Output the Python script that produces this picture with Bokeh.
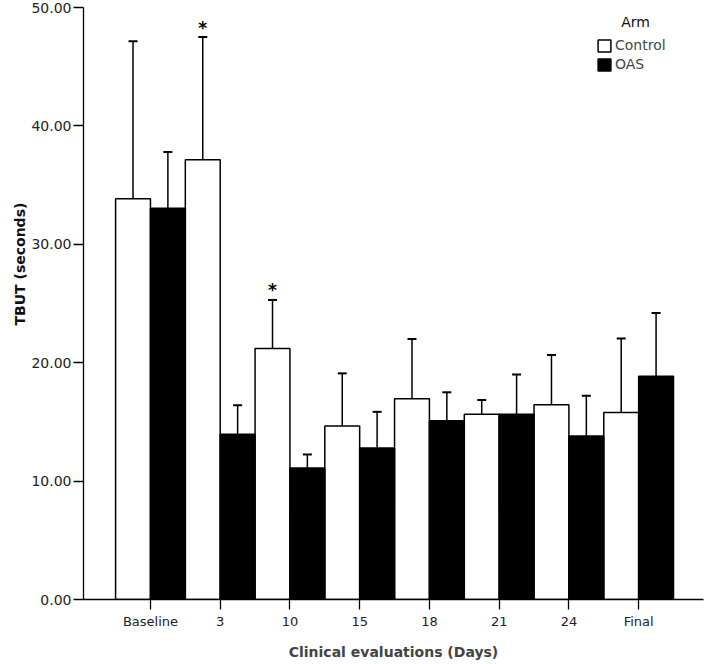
from bokeh.plotting import figure
from bokeh.models import (ColumnDataSource, Whisker, TeeHead, Range1d, FixedTicker,
                          PrintfTickFormatter, Legend, LegendItem, Label, Title)
from bokeh.core.properties import value
from bokeh.embed import file_html
from bokeh.resources import INLINE

categories = ["Baseline", "3", "10", "15", "18", "21", "24", "Final"]
control_mean = [33.85, 37.15, 21.2, 14.65, 16.95, 15.65, 16.45, 15.8]
control_err = [13.3, 10.35, 4.1, 4.45, 5.05, 1.2, 4.2, 6.25]
oas_mean = [33.05, 13.95, 11.1, 12.8, 15.1, 15.65, 13.8, 18.85]
oas_err = [4.75, 2.45, 1.15, 3.05, 2.4, 3.35, 3.4, 5.35]
significant = ["3", "10"]  # starred control bars
y_ticks = [0, 10, 20, 30, 40, 50]

FONT = "DejaVu Sans"
idx = list(range(len(categories)))
ctrl_x = [i - 0.25 for i in idx]
oas_x = [i + 0.25 for i in idx]

ctrl_src = ColumnDataSource(dict(
    x=ctrl_x, top=control_mean,
    lower=[m - e for m, e in zip(control_mean, control_err)],
    upper=[m + e for m, e in zip(control_mean, control_err)]))
oas_src = ColumnDataSource(dict(
    x=oas_x, top=oas_mean,
    lower=[m - e for m, e in zip(oas_mean, oas_err)],
    upper=[m + e for m, e in zip(oas_mean, oas_err)]))

p = figure(width=705, height=662, output_backend="svg", toolbar_location=None,
           x_range=Range1d(-0.96, 7.93), y_range=Range1d(0, 50),
           min_border_left=83, min_border_right=2, min_border_top=7, min_border_bottom=63)
p.outline_line_color = None
p.xgrid.visible = False
p.ygrid.visible = False
p.background_fill_color = "white"

r_ctrl = p.vbar(x="x", top="top", bottom=0, width=0.5, source=ctrl_src,
                fill_color="white", line_color="black", line_width=1.5)
r_oas = p.vbar(x="x", top="top", bottom=0, width=0.5, source=oas_src,
               fill_color="black", line_color="black", line_width=1.5)

for src in (ctrl_src, oas_src):
    w = Whisker(base="x", lower="lower", upper="upper", source=src,
                line_color="black", line_width=1.5,
                upper_head=TeeHead(size=9, line_color="black", line_width=2),
                lower_head=TeeHead(size=9, line_color="black", line_width=2))
    p.add_layout(w)

# significance stars
star_x = [ctrl_x[categories.index(c)] for c in significant]
star_y = [control_mean[categories.index(c)] + control_err[categories.index(c)] + 0.8
          for c in significant]
p.text(x=star_x, y=star_y, text=["*"] * len(star_x), text_align="center",
       text_baseline="alphabetic", text_font=value(FONT), text_font_size="17px",
       text_font_style="bold", text_color="black")

# axes
p.xaxis.ticker = FixedTicker(ticks=idx)
p.xaxis.major_label_overrides = {i: c for i, c in enumerate(categories)}
p.xaxis.axis_label = "Clinical evaluations (Days)"
p.xaxis.axis_label_text_font = FONT
p.xaxis.axis_label_text_font_style = "bold"
p.xaxis.axis_label_text_font_size = "14px"
p.xaxis.axis_label_standoff = 12
p.xaxis.major_label_text_font = FONT
p.xaxis.major_label_text_font_size = "13px"
p.xaxis.major_label_text_color = "#222222"
p.xaxis.major_tick_out = 10
p.xaxis.major_tick_in = 0
p.xaxis.minor_tick_out = 0
p.xaxis.minor_tick_in = 0
p.xaxis.axis_line_width = 1.3
p.xaxis.major_tick_line_width = 1.3
p.xaxis.major_label_standoff = 4

p.yaxis.ticker = FixedTicker(ticks=y_ticks)
p.yaxis.formatter = PrintfTickFormatter(format="%.2f")
p.yaxis.major_label_text_font = FONT
p.yaxis.major_label_text_font_size = "14px"
p.yaxis.major_label_text_color = "#222222"
p.yaxis.major_tick_out = 10
p.yaxis.major_tick_in = 0
p.yaxis.minor_tick_out = 0
p.yaxis.minor_tick_in = 0
p.yaxis.axis_line_width = 1.3
p.yaxis.major_tick_line_width = 1.3
p.yaxis.major_label_standoff = 2

# y-axis title, placed (like the original) above the axis centre
p.add_layout(Title(text="TBUT (seconds)", align="left", offset=274,
                   text_font=FONT, text_font_size="14px", text_font_style="bold",
                   text_color="#111111", standoff=2), "left")

# legend
legend = Legend(items=[LegendItem(label="Control", renderers=[r_ctrl]),
                       LegendItem(label="OAS", renderers=[r_oas])],
                location=(513, 527), glyph_width=16, glyph_height=15,
                label_height=15, spacing=3, padding=2, margin=0,
                label_standoff=3, border_line_color=None,
                background_fill_alpha=0,
                label_text_font=FONT, label_text_font_size="14px")
p.add_layout(legend)
p.add_layout(Label(x=6.75, y=48.8, text="Arm", text_align="left", text_baseline="middle",
                   text_font=FONT, text_font_size="14px", text_color="#111111"))

open("out.html", "w").write(file_html(p, INLINE))
